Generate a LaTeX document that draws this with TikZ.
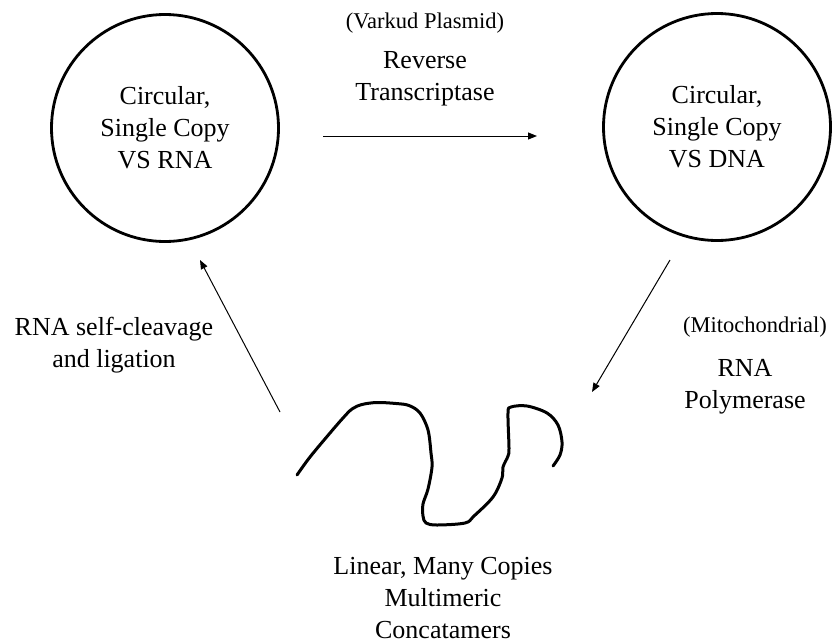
\documentclass[tikz,border=0pt]{standalone}
\usepackage{fontspec}
\setmainfont{Liberation Serif}
\usetikzlibrary{arrows.meta}
\begin{document}
\begin{tikzpicture}[x=1pt,y=-1pt,
  stage/.style={circle, draw, line width=2.8pt, minimum size=227pt, inner sep=0pt,
    align=center, font=\fontsize{26}{32}\selectfont},
  txt/.style={align=center, inner sep=0pt, font=\fontsize{26}{32}\selectfont},
  subnote/.style={inner sep=0pt, font=\fontsize{22.5}{27}\selectfont},
  flow/.style={line width=1pt, -{Triangle[length=9pt,width=7pt]}},
  strand/.style={line width=3pt, line cap=round, line join=round}]
\useasboundingbox (0,0) rectangle (835,643);

% the two circular forms
\node[stage] (rna) at (165,128) {Circular,\\Single Copy\\VS RNA};
\node[stage] (dna) at (717,127) {Circular,\\Single Copy\\VS DNA};

% connector end points
\coordinate (rtStart) at (323,136);
\coordinate (rtEnd)   at (537,136);
\coordinate (polStart) at (670,260);
\coordinate (polEnd)   at (592,392);
\coordinate (ligStart) at (280,412);
\coordinate (ligEnd)   at (200,260);

\draw[flow] (rtStart) -- (rtEnd);
\draw[flow] (polStart) -- (polEnd);
\draw[flow] (ligStart) -- (ligEnd);

% enzyme labels
\node[subnote] (rtsrc) at (425,23) {(Varkud Plasmid)};
\node[txt] (rtname) at (425,78.5) {Reverse\\Transcriptase};
\node[subnote] (polsrc) at (755,327) {(Mitochondrial)};
\node[txt] (polname) at (745,386.5) {RNA\\Polymerase};
\node[txt] (ligname) at (114,345.5) {RNA self-cleavage\\and ligation};

% linear multimeric strand
\draw[strand] plot[smooth, tension=0.55] coordinates {
  (297,475) (310,457) (330,433) (343,418) (352,409) (362,404.5) (377,402.5)
  (396,403.5) (409,405.5) (420,413)
  (428,430) (431,453) (432,467) (428,489) (423,504) (423,516) (426,523)
  (437,525) (465,523) (474,516) (493,497) (502,478) (503,467) (508,456)
  (509,448) (508,413) (511,407) (527,406) (547,413) (558,425) (562,442)
  (560,455) (553,466)};

\node[txt] (linear) at (443,598) {Linear, Many Copies\\Multimeric\\Concatamers};
\end{tikzpicture}
\end{document}
